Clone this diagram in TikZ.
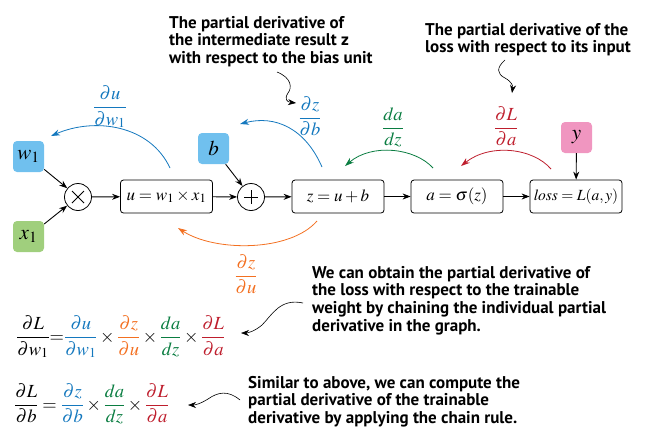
\documentclass[tikz,border=0pt]{standalone}
\usepackage{amsmath}
\usepackage{mathptmx}
\usepackage{fontspec}
\setmainfont{PT Sans}
\usetikzlibrary{arrows.meta}
\definecolor{cblue}{RGB}{20,120,190}
\definecolor{cgreen}{RGB}{10,125,65}
\definecolor{cred}{RGB}{190,30,45}
\definecolor{corange}{RGB}{243,112,33}
\definecolor{fblue}{RGB}{112,192,238}
\definecolor{fgreen}{RGB}{160,207,125}
\definecolor{fpink}{RGB}{240,150,192}
\tikzset{
  box/.style={draw, line width=0.8pt, rounded corners=3pt, minimum width=92, minimum height=33, inner sep=0pt, font=\fontsize{17}{19}\selectfont},
  inbox/.style={rounded corners=4pt, minimum size=31, inner sep=0pt, font=\fontsize{21}{23}\selectfont},
  op/.style={circle, draw, line width=0.8pt, minimum size=27, inner sep=0pt},
  arr/.style={-{Stealth[length=8pt,width=6pt]}, line width=0.9pt},
  barr/.style={-{Stealth[length=9pt,width=6pt]}, line width=0.8pt},
  sq/.style={-{Stealth[length=8pt,width=6pt]}, line width=0.6pt},
  lab/.style={inner sep=0pt, font=\fontsize{18.5}{20}\selectfont},
  note/.style={inner sep=0pt, anchor=north west, align=left, font=\fontsize{17}{17.6}\selectfont\bfseries},
}
\begin{document}
\begin{tikzpicture}[x=1pt,y=-1pt]
\useasboundingbox (0,0) rectangle (655,445);
% input boxes
\node[inbox, fill=fblue] (w1) at (28.5,156.5) {$w_1$};
\node[inbox, fill=fgreen] (x1) at (28.5,236.5) {$x_1$};
\node[inbox, fill=fblue] (b) at (213.5,148.5) {$b$};
\node[inbox, fill=fpink] (y) at (576.5,137.5) {$y$};
% operators
\node[op] (mul) at (78,197) {};
\node[op] (add) at (251,197) {};
\draw[line width=0.9pt] (mul.center) ++(-6,-6) -- ++(12,12) (mul.center) ++(-6,6) -- ++(12,-12);
\draw[line width=0.9pt] (add.center) ++(-7,0) -- ++(14,0) (add.center) ++(0,-7) -- ++(0,14);
% boxes
\node[box] (u) at (166.5,196.5) {$u = w_1 \times x_1$};
\node[box] (z) at (338,196.5) {$z = u + b$};
\node[box] (a) at (457,196.5) {$a = \sigma(z)$};
\node[box, font=\fontsize{15.5}{17}\selectfont] (loss) at (576,196.5) {$\mathit{loss} = L(a, y)$};
% forward arrows
\draw[arr] (w1) -- (mul);
\draw[arr] (x1) -- (mul);
\draw[arr] (mul) -- (u);
\draw[arr] (u) -- (add);
\draw[arr] (b) -- (add);
\draw[arr] (add) -- (z);
\draw[arr] (z) -- (a);
\draw[arr] (a) -- (loss);
\draw[arr] (y) -- (loss);
% backward curved arrows
\coordinate (bu1) at (170,168); \coordinate (bu2) at (51,136);
\coordinate (bz1) at (322,167); \coordinate (bz2) at (240,124);
\coordinate (ga1) at (433,168); \coordinate (ga2) at (345,166);
\coordinate (ra1) at (551,169); \coordinate (ra2) at (461,166);
\coordinate (oa1) at (317,221); \coordinate (oa2) at (178,228);
\draw[barr, cblue] (bu1) .. controls (150,125) and (95,117) .. (bu2);
\draw[barr, cblue] (bz1) .. controls (305,128) and (275,115) .. (bz2);
\draw[barr, cgreen] (ga1) .. controls (415,148) and (372,143) .. (ga2);
\draw[barr, cred] (ra1) .. controls (533,148) and (490,143) .. (ra2);
\draw[barr, corange] (oa1) .. controls (290,252) and (215,252) .. (oa2);
% derivative labels
\node[lab, text=cblue] (l1) at (110,107) {$\dfrac{\partial u}{\partial w_1}$};
\node[lab, text=cblue] (l2) at (310,116) {$\dfrac{\partial z}{\partial b}$};
\node[lab, text=cgreen] (l3) at (393,127) {$\dfrac{da}{dz}$};
\node[lab, text=cred] (l4) at (506,126) {$\dfrac{\partial L}{\partial a}$};
\node[lab, text=corange] (l5) at (246,274) {$\dfrac{\partial z}{\partial u}$};
% notes
\node[note] (n1) at (169,16) {The partial derivative of\\the intermediate result z\\with respect to the bias unit};
\node[note] (n2) at (425,23) {The partial derivative of the\\loss with respect to its input};
\node[note] (n3) at (312,266) {We can obtain the partial derivative of\\the loss with respect to the trainable\\weight by chaining the individual partial\\derivative in the graph.};
\node[note] (n4) at (248,376) {Similar to above, we can compute the\\partial derivative of the trainable\\derivative by applying the chain rule.};
% equations
\node[lab, anchor=west] (e1) at (16,337) {$\dfrac{\partial L}{\partial w_1}{=}{\color{cblue}\dfrac{\partial u}{\partial w_1}}\times{\color{corange}\dfrac{\partial z}{\partial u}}\times{\color{cgreen}\dfrac{da}{dz}}\times{\color{cred}\dfrac{\partial L}{\partial a}}$};
\node[lab, anchor=west] (e2) at (14,404) {$\dfrac{\partial L}{\partial b} = {\color{cblue}\dfrac{\partial z}{\partial b}}\times{\color{cgreen}\dfrac{da}{dz}}\times{\color{cred}\dfrac{\partial L}{\partial a}}$};
% squiggles
\coordinate (s1a) at (277,72); \coordinate (s1b) at (296,103);
\coordinate (s2a) at (505,60); \coordinate (s2b) at (512,93);
\coordinate (s3a) at (303,303); \coordinate (s3b) at (241,333);
\coordinate (s4a) at (240,400); \coordinate (s4b) at (188,405);
\draw[sq] (s1a) .. controls (292,78) and (292,88) .. (288,93) .. controls (284,99) and (287,102) .. (s1b);
\draw[sq] (s2a) .. controls (496,68) and (497,74) .. (505,78) .. controls (512,82) and (513,86) .. (s2b);
\draw[sq] (s3a) .. controls (280,298) and (272,315) .. (262,325) .. controls (255,331) and (248,333) .. (s3b);
\draw[sq] (s4a) .. controls (228,390) and (218,392) .. (208,399) .. controls (200,404) and (195,405) .. (s4b);
\end{tikzpicture}
\end{document}
